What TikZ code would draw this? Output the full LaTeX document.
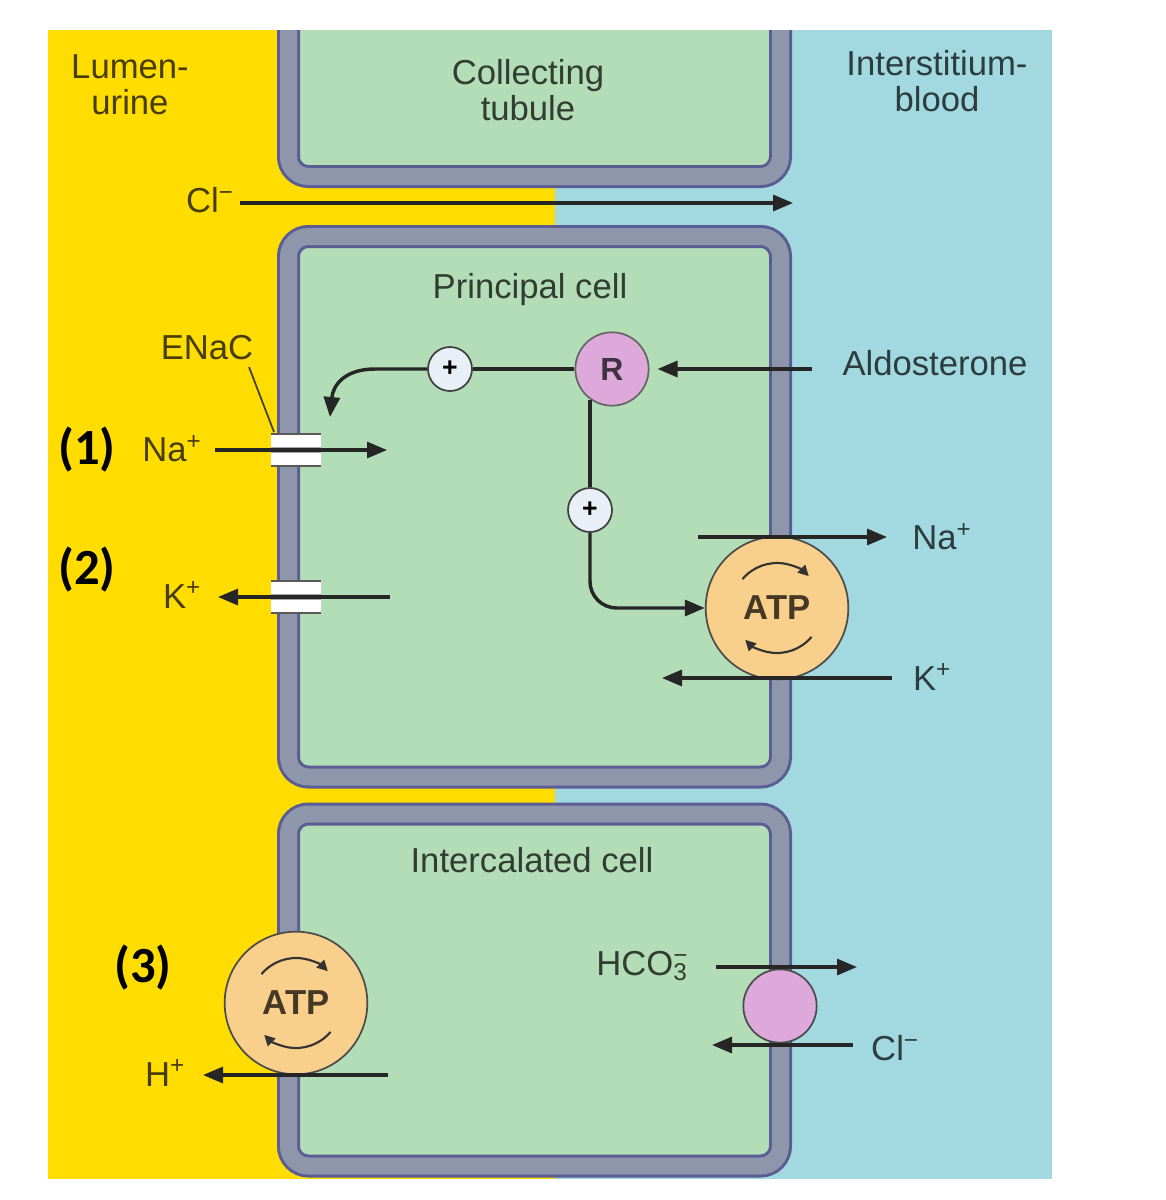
\documentclass[tikz,border=0pt]{standalone}
\usepackage{fontspec}
\setmainfont{Liberation Sans}
\newfontfamily\numfont{Carlito}
\usetikzlibrary{arrows.meta}

\definecolor{urineYellow}{HTML}{FFDD00}
\definecolor{bloodBlue}{HTML}{A2D9E0}
\definecolor{cellGreen}{HTML}{B3DDB6}
\definecolor{membGray}{HTML}{8D96AA}
\definecolor{membEdge}{HTML}{5C5C94}
\definecolor{atpOrange}{HTML}{F9D08B}
\definecolor{recPink}{HTML}{DCA9DA}
\definecolor{plusWhite}{HTML}{E8EFF6}

\begin{document}
\begin{tikzpicture}[x=0.75pt,y=-0.75pt,
  lbl/.style={text=black,text opacity=0.72,font=\fontsize{26}{27}\selectfont,align=center,inner sep=0pt},
  numlbl/.style={text=black,font=\numfont\fontsize{38}{38}\selectfont\bfseries,inner sep=0pt},
  ion/.style={draw=black!85,line width=2.4pt,-{Triangle[length=15pt,width=12pt]}},
  sigline/.style={draw=black!85,line width=2.6pt},
  cyc/.style={draw=black!80,line width=1.6pt,-{Triangle[length=8pt,width=8pt]}},
  membedge/.style={draw=membEdge,line width=17.25pt,rounded corners=15pt},
  membmid/.style={draw=membGray,line width=12.75pt,rounded corners=15pt},
  pump/.style={circle,draw=black!70,line width=1.3pt,fill=atpOrange,minimum size=107pt,inner sep=0pt,
    text=black,text opacity=0.72,font=\fontsize{26}{26}\selectfont\bfseries},
  recep/.style={circle,draw=black!60,line width=1.3pt,fill=recPink,minimum size=55pt,inner sep=0pt,
    text=black,text opacity=0.7,font=\fontsize{24}{24}\selectfont\bfseries},
  plusc/.style={circle,draw=black!75,line width=1.3pt,fill=plusWhite,minimum size=33pt,inner sep=0pt,
    font=\fontsize{20}{20}\selectfont\bfseries}
]
\useasboundingbox (0,0) rectangle (1165,1200);
\fill[white] (0,0) rectangle (1165,1200);

% lumen and interstitium
\fill[urineYellow] (48,30) rectangle (555,1179);
\fill[bloodBlue] (555,30) rectangle (1052,1179);

\begin{scope}
\clip (48,30) rectangle (1052,1179);
% collecting tubule
\filldraw[fill=cellGreen,membedge] (288.5,0) -- (288.5,176.5) -- (780.5,176.5) -- (780.5,0);
\draw[membmid] (288.5,0) -- (288.5,176.5) -- (780.5,176.5) -- (780.5,0);
% principal cell
\filldraw[fill=cellGreen,membedge] (288.5,236.5) rectangle (780.5,777);
\draw[membmid] (288.5,236.5) rectangle (780.5,777);
% intercalated cell
\filldraw[fill=cellGreen,membedge] (288.5,814) rectangle (780.5,1166);
\draw[membmid] (288.5,814) rectangle (780.5,1166);
\end{scope}

% channels in the apical membrane
\foreach \y in {450,597}{
  \fill[white] (271,\y-16) rectangle (321,\y+16);
  \fill[black!35] (271,\y-3) rectangle (321,\y+3);
  \draw[black!65,line width=1.2pt] (271,\y-16) -- (321,\y-16) (271,\y+16) -- (321,\y+16);
}

\coordinate (cClStartPt) at (240,203);
\coordinate (cClEndPt) at (793,203);
\coordinate (cNaLumPt) at (215,450);
\coordinate (cNaCellPt) at (387,450);
\coordinate (cKCellPt) at (390,597);
\coordinate (cKLumPt) at (218,597);
\coordinate (cNaPumpPt) at (698,537);
\coordinate (cNaBloodPt) at (887,537);
\coordinate (cKBloodPt) at (892,678);
\coordinate (cKPumpPt) at (662,678);
\coordinate (cHCellPt) at (388,1075);
\coordinate (cHLumPt) at (203,1075);
\coordinate (cHcoCellPt) at (716,967);
\coordinate (cHcoBloodPt) at (857,967);
\coordinate (cClBloodPt) at (853,1045);
\coordinate (cClCellPt) at (712,1045);
\coordinate (cAldoPt) at (812,369);
\coordinate (cBendPt) at (375,369);
\coordinate (cEnacTipPt) at (330,417);
\coordinate (cEnacLeadPt) at (249,367);
\coordinate (cEnacChanPt) at (274,432);

\node[pump] (atpP) at (777,608) {ATP};
\node[pump] (atpI) at (296,1003) {ATP};
\node[circle,draw=black!70,line width=1.3pt,fill=recPink,minimum size=55pt] (hcoX) at (780,1006) {};
\node[recep] (recR) at (612,369) {R};
\node[plusc] (plusA) at (450,369) {+};
\node[plusc] (plusB) at (590,510) {+};

\foreach \p in {atpP,atpI}{
  \draw[cyc] ([shift={(-140:45)}]\p.center) arc (-140:-45:45);
  \draw[cyc] ([shift={(40:45)}]\p.center) arc (40:135:45);
}

% aldosterone pathway
\draw[ion,shorten >=6pt] (cAldoPt) -- (recR);
\draw[sigline] (recR.west) -- (plusA.east);
\draw[sigline,-{Triangle[length=15pt,width=12pt]}] (plusA.west) -- (cBendPt) .. controls (345,369) and (333,385) .. (cEnacTipPt);
\draw[sigline] (plusB.north |- recR.236) -- (plusB.north);
\draw[sigline,rounded corners=20pt,-{Triangle[length=15pt,width=12pt]}] (plusB.south) |- (atpP.west);
\draw[black!75,line width=1.3pt] (cEnacLeadPt) -- (cEnacChanPt);

% ion movements
\draw[ion] (cClStartPt) -- (cClEndPt);
\draw[ion] (cNaLumPt) -- (cNaCellPt);
\draw[ion] (cKCellPt) -- (cKLumPt);
\draw[ion] (cNaPumpPt) -- (cNaBloodPt);
\draw[ion] (cKBloodPt) -- (cKPumpPt);
\draw[ion] (cHCellPt) -- (cHLumPt);
\draw[ion] (cHcoCellPt) -- (cHcoBloodPt);
\draw[ion] (cClBloodPt) -- (cClCellPt);

% labels
\node[lbl] (lumen) at (130,85) {Lumen-\\urine};
\node[lbl] (tubule) at (528,90) {Collecting\\tubule};
\node[lbl] (interst) at (937,81) {Interstitium-\\blood};
\node[lbl] (clTop) at (210,200) {Cl\textsuperscript{−}};
\node[lbl] (principal) at (530,290) {Principal cell};
\node[lbl] (enac) at (207,348) {ENaC};
\node[lbl] (aldo) at (935,363) {Aldosterone};
\node[lbl] (naL) at (172,449) {Na\textsuperscript{+}};
\node[lbl] (kL) at (182,595) {K\textsuperscript{+}};
\node[lbl] (naR) at (942,537) {Na\textsuperscript{+}};
\node[lbl] (kR) at (932,677) {K\textsuperscript{+}};
\node[lbl] (intercal) at (532,860) {Intercalated cell};
\node[lbl] (hL) at (165,1073) {H\textsuperscript{+}};
\node[lbl] (hco) at (642,966) {HCO\rlap{\textsuperscript{−}}\textsubscript{3}};
\node[lbl] (clR) at (895,1048) {Cl\textsuperscript{−}};
\node[numlbl] (num1) at (87,450) {(1)};
\node[numlbl] (num2) at (87,570) {(2)};
\node[numlbl] (num3) at (143,968) {(3)};
\end{tikzpicture}
\end{document}
